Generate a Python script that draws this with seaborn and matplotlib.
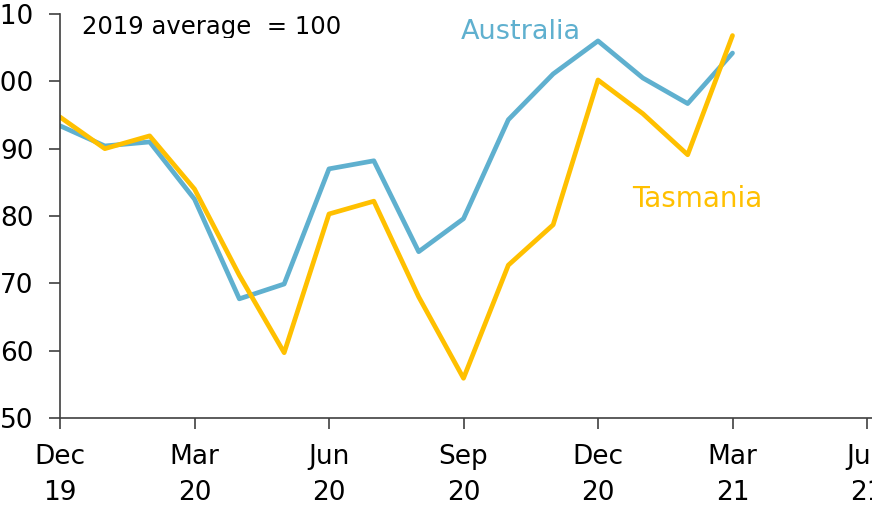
import numpy as np
import pandas as pd
import seaborn as sns
import matplotlib.pyplot as plt
from matplotlib.transforms import Bbox, TransformedBbox

# Monthly index, 2019 average = 100 (Dec 19 .. Mar 21)
months = ["Dec 19", "Jan 20", "Feb 20", "Mar 20", "Apr 20", "May 20", "Jun 20", "Jul 20",
          "Aug 20", "Sep 20", "Oct 20", "Nov 20", "Dec 20", "Jan 21", "Feb 21", "Mar 21"]
australia = [93.4, 90.4, 91.0, 82.5, 67.7, 69.9, 87.0, 88.2,
             74.7, 79.6, 94.3, 101.1, 106.0, 100.5, 96.7, 104.2]
tasmania = [94.7, 90.0, 91.9, 84.0, 71.2, 59.7, 80.3, 82.2,
            68.0, 55.9, 72.7, 78.7, 100.2, 95.2, 89.1, 106.8]
tick_labels = ["Dec\n19", "Mar\n20", "Jun\n20", "Sep\n20", "Dec\n20", "Mar\n21", "Jun\n21"]

df = pd.DataFrame({
    "pos": list(range(len(months))) * 2,
    "value": australia + tasmania,
    "series": ["Australia"] * len(months) + ["Tasmania"] * len(months),
})

sns.set_style("white")
plt.rcParams["font.family"] = ["DejaVu Sans"]

W, H = 872, 508
fig = plt.figure(figsize=(W / 100, H / 100), dpi=100)
ax = fig.add_axes([60 / W, (H - 418) / H, (872 - 60) / W, (418 - 14) / H])

palette = {"Australia": "#5FB0CF", "Tasmania": "#FFC000"}
sns.lineplot(data=df, x="pos", y="value", hue="series", palette=palette,
             linewidth=3.4, legend=False, ax=ax)

ax.set_xlim(0, 18 * 812 / 807)
ax.set_ylim(50, 110)
ax.set_xticks(range(0, 19, 3))
ax.set_xticklabels(tick_labels, linespacing=1.5)
ax.set_yticks(range(50, 111, 10))
ax.set_xlabel("")
ax.set_ylabel("")

for s in ["top", "right"]:
    ax.spines[s].set_visible(False)
for s in ["left", "bottom"]:
    ax.spines[s].set_color("#404040")
    ax.spines[s].set_linewidth(1.2)
ax.tick_params(axis="both", direction="out", length=8, width=1.2, color="#404040",
               labelsize=19, labelcolor="black", bottom=True, left=True)
ax.tick_params(axis="x", pad=11)
ax.tick_params(axis="y", pad=11)

note = ax.text(22 / 812, 1 - 13 / 404, "2019 average  = 100", transform=ax.transAxes,
               fontsize=17.5, va="center", ha="left", color="black")
note.set_clip_on(True)
note.set_clip_box(TransformedBbox(Bbox([[0, 1 - 38 / H], [1, 1]]), fig.transFigure))

ax.text(10.28, 107.3, "Australia", color="#5FB0CF", fontsize=19.5, va="center", ha="center")
ax.text(14.21, 82.5, "Tasmania", color="#FFC000", fontsize=20, va="center", ha="center")

fig.savefig("out.png", dpi=100)
